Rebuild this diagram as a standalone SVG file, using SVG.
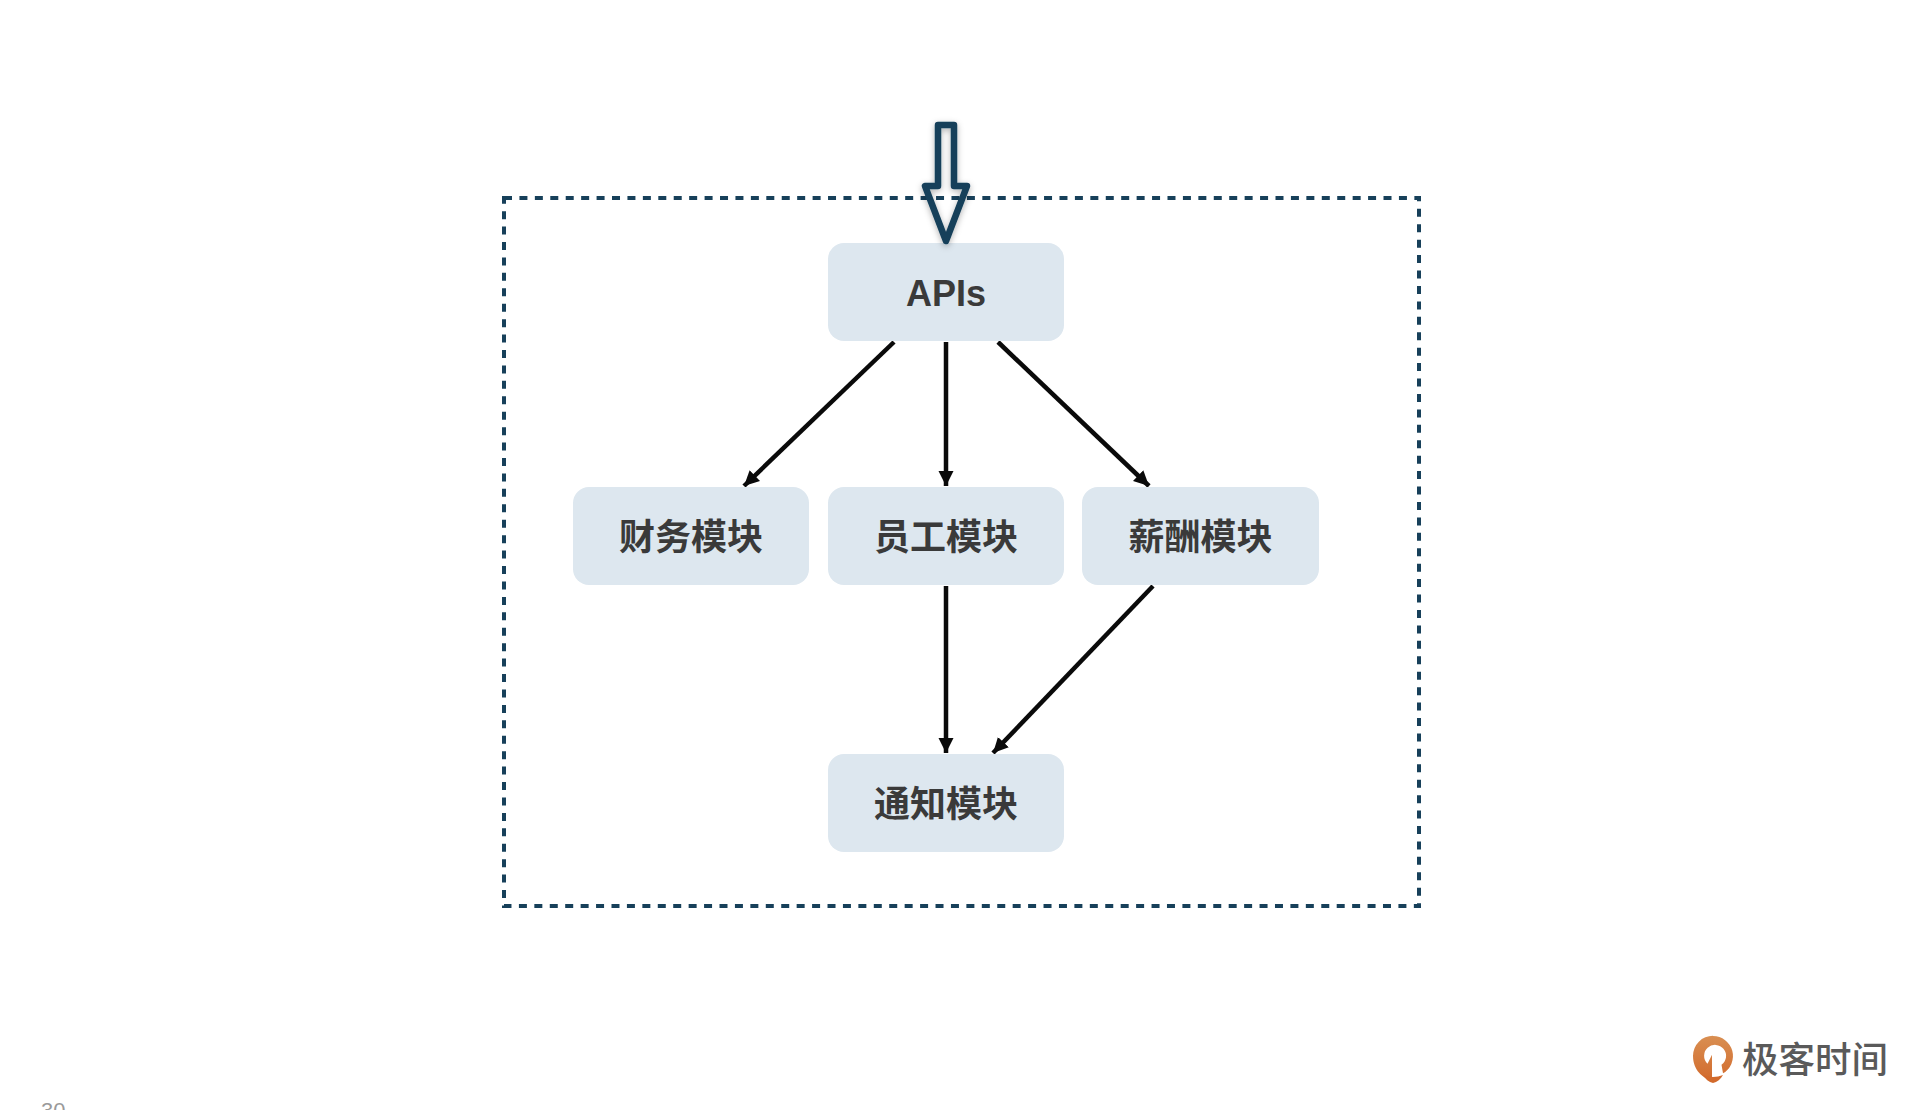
<svg xmlns="http://www.w3.org/2000/svg" width="1920" height="1110" viewBox="0 0 1920 1110">
  <style>
    .box { fill: #dde7ef; }
    .label { font-family: "Liberation Sans", "Noto Sans CJK SC", sans-serif; font-size: 36px; font-weight: 700; fill: #3a3a3a; text-anchor: middle; }
    .link { fill: none; stroke: #0a0a0a; stroke-width: 4.500; marker-end: url(#head); }
    .brand { font-family: "Noto Sans CJK SC", sans-serif; font-size: 36.500px; font-weight: 500; fill: #5a5a5a; }
    .page { font-family: "Liberation Sans", sans-serif; font-size: 22px; fill: #9a9a9a; }
  </style>
  <defs>
    <marker id="head" markerUnits="userSpaceOnUse" markerWidth="17" markerHeight="18" refX="15" refY="9" orient="auto">
      <path d="M0 1.500L15 9L0 16.500z" fill="#0a0a0a"/>
    </marker>
    <filter id="soft" x="-40%" y="-20%" width="180%" height="140%">
      <feDropShadow dx="0" dy="2" stdDeviation="3" flood-color="#000" flood-opacity="0.3"/>
    </filter>
    <linearGradient id="logoFill" x1="0" y1="0" x2="0" y2="1">
      <stop offset="0" stop-color="#d98f52"/>
      <stop offset="1" stop-color="#d26a2c"/>
    </linearGradient>
  </defs>
  <rect width="1920" height="1110" fill="#fff"/>

  <rect id="boundary" x="504" y="198" width="915" height="708" fill="none" stroke="#17405a" stroke-width="4" stroke-dasharray="8 7.430"/>

  <g id="connectors">
    <path class="link" d="M894 342L744 486"/>
    <path class="link" d="M946 342V486"/>
    <path class="link" d="M998 342L1149 486"/>
    <path class="link" d="M946 586V753"/>
    <path class="link" d="M1153 586L993 753"/>
  </g>

  <g id="apis"><rect class="box" x="828" y="243" width="236" height="98" rx="16"/><text class="label" x="946" y="305.500">APIs</text></g>
  <g id="finance"><rect class="box" x="573" y="487" width="236" height="98" rx="16"/><text class="label" x="691" y="550">财务模块</text></g>
  <g id="staff"><rect class="box" x="828" y="487" width="236" height="98" rx="16"/><text class="label" x="946" y="550">员工模块</text></g>
  <g id="salary"><rect class="box" x="1082" y="487" width="237" height="98" rx="16"/><text class="label" x="1200.500" y="550">薪酬模块</text></g>
  <g id="notify"><rect class="box" x="828" y="754" width="236" height="98" rx="16"/><text class="label" x="946" y="817">通知模块</text></g>

  <g id="entry-arrow">
    <path d="M938 125H954V186H967L946 241L925 186H938z" fill="none" stroke="#17405a" stroke-width="6.500" stroke-linejoin="round" filter="url(#soft)"/>
  </g>

  <g id="brand">
    <path fill-rule="evenodd" d="M1713 1036a20 20 0 0 1 10 37.300l-1.500-8.500a11 11 0 1 0-14-1l4.500-9v26c-9-3-19-10-19-25a20 20 0 0 1 20-20z" fill="url(#logoFill)"/>
    <path d="M1703 1075c6 2.500 14 2.500 20 0c-2 4-6 7-10 8c-4-1-8-4-10-8z" fill="#d26a2c"/>
    <text class="brand" x="1742" y="1073">极客时间</text>
  </g>

  <text id="page-number" class="page" x="41" y="1118">30</text>
</svg>
